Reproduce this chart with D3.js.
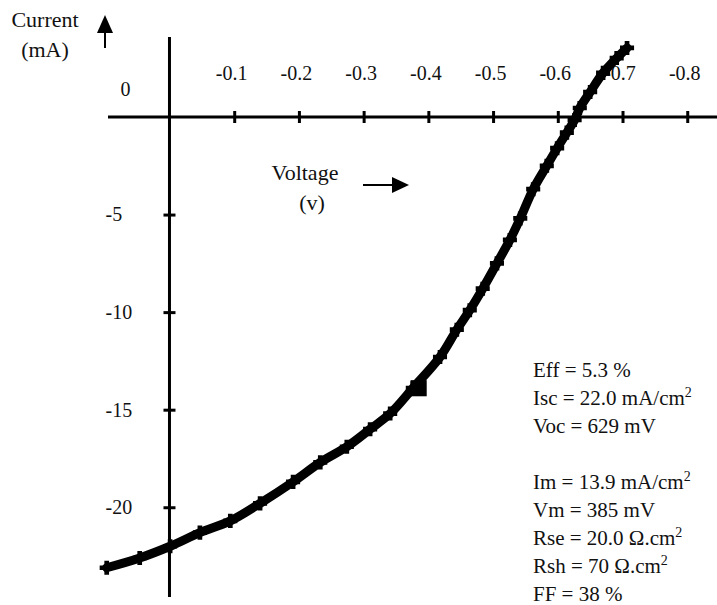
<!DOCTYPE html>
<html>
<head>
<meta charset="utf-8">
<script src="https://cdn.jsdelivr.net/npm/d3@7"></script>
<style>
  body { margin: 0; background: #fff; }
  svg text { font-family: "Liberation Serif", "Times New Roman", serif; fill: #111; }
</style>
</head>
<body>
<script>
var width = 717,
    height = 605;

// I-V curve (voltage in V, current in mA)
var voltage = [0.097, 0.046, -0.001, -0.047, -0.094, -0.140, -0.191, -0.233, -0.274, -0.310,
  -0.341, -0.376, -0.418, -0.444, -0.464, -0.484, -0.506, -0.526, -0.542, -0.562,
  -0.583, -0.599, -0.614, -0.626, -0.634, -0.650, -0.670, -0.691, -0.707];
var current = [-23.1, -22.6, -22.0, -21.3, -20.7, -19.8, -18.7, -17.7, -16.9, -16.0,
  -15.2, -13.9, -12.3, -10.9, -9.9, -8.8, -7.5, -6.3, -5.2, -3.7,
  -2.5, -1.6, -0.8, -0.15, 0.46, 1.28, 2.26, 3.02, 3.54];

var xTicks = [-0.1, -0.2, -0.3, -0.4, -0.5, -0.6, -0.7, -0.8];
var yTicks = [-5, -10, -15, -20];

// max power point
var vm = -0.385, im = -13.9;

var notes = ["Eff = 5.3 %", "Isc = 22.0 mA/cm|2", "Voc = 629 mV", "",
  "Im = 13.9 mA/cm|2", "Vm = 385 mV", "Rse = 20.0 \u03A9.cm|2", "Rsh = 70 \u03A9.cm|2", "FF = 38 %"];

var points = voltage.map(function(v, i){ return {v: v, i: current[i]}; });

var svg = d3.select("body").append("svg").attr("width", width).attr("height", height);

var x = d3.scaleLinear().domain([0.095, -0.846]).range([108, 717]);
var y = d3.scaleLinear().domain([4.1, -24.6]).range([37, 597]);

// axis lines
svg.append("line")
    .attr("x1", x(0.095)).attr("x2", x(-0.846))
    .attr("y1", y(0)).attr("y2", y(0))
    .attr("stroke", "#000").attr("stroke-width", 3);
svg.append("line")
    .attr("x1", x(0)).attr("x2", x(0))
    .attr("y1", y(4.1)).attr("y2", y(-24.6))
    .attr("stroke", "#000").attr("stroke-width", 3);

// x ticks, labels above the axis
var gx = svg.append("g")
    .attr("transform", "translate(0," + y(0) + ")")
    .call(d3.axisTop(x).tickValues(xTicks).tickSize(6).tickPadding(31)
      .tickFormat(function(d){ return d.toFixed(1); }));
gx.select(".domain").remove();
gx.selectAll(".tick line").attr("y1", 6).attr("stroke", "#000").attr("stroke-width", 3);
gx.selectAll(".tick text")
    .attr("dx", -3)
    .style("font-size", "20px")
    .style("font-family", "Liberation Serif, serif");

// y ticks, labels left-aligned
var gy = svg.append("g")
    .attr("transform", "translate(" + x(0) + ",0)")
    .call(d3.axisLeft(y).tickValues(yTicks).tickSize(6)
      .tickFormat(function(d){ return String(d); }));
gy.select(".domain").remove();
gy.selectAll(".tick line").attr("x1", 6).attr("stroke", "#000").attr("stroke-width", 3);
gy.selectAll(".tick text")
    .attr("x", -64)
    .attr("text-anchor", "start")
    .style("font-size", "20px")
    .style("font-family", "Liberation Serif, serif");

svg.append("text")
    .attr("x", x(0) - 44).attr("y", y(0) - 21)
    .attr("text-anchor", "middle")
    .style("font-size", "20px")
    .text("0");

// axis titles and arrows
svg.append("text").attr("x", 45).attr("y", 27).attr("text-anchor", "middle")
    .style("font-size", "22px").text("Current");
svg.append("text").attr("x", 45).attr("y", 57).attr("text-anchor", "middle")
    .style("font-size", "22px").text("(mA)");

svg.append("line").attr("x1", 105).attr("x2", 105).attr("y1", 32).attr("y2", 48)
    .attr("stroke", "#000").attr("stroke-width", 2);
svg.append("path").attr("d", "M105,15L113,33L97,33Z").attr("fill", "#000");

svg.append("text").attr("x", 305).attr("y", 180).attr("text-anchor", "middle")
    .style("font-size", "22px").text("Voltage");
svg.append("text").attr("x", 312).attr("y", 210).attr("text-anchor", "middle")
    .style("font-size", "22px").text("(v)");

svg.append("line").attr("x1", 363).attr("x2", 394).attr("y1", 185).attr("y2", 185)
    .attr("stroke", "#000").attr("stroke-width", 2);
svg.append("path").attr("d", "M409,185L392,177L392,193Z").attr("fill", "#000");

// the curve
var line = d3.line()
    .x(function(d){ return x(d.v); })
    .y(function(d){ return y(d.i); })
    .curve(d3.curveCatmullRom);

svg.append("path")
    .datum(points)
    .attr("d", line)
    .attr("fill", "none")
    .attr("stroke", "#000")
    .attr("stroke-width", 9)
    .attr("stroke-linejoin", "round")
    .attr("stroke-linecap", "round");

svg.append("g").selectAll("path")
    .data(points)
  .enter().append("path")
    .attr("transform", function(d){ return "translate(" + x(d.v) + "," + y(d.i) + ")"; })
    .attr("d", d3.symbol().type(d3.symbolCross).size(110))
    .attr("fill", "#000");

svg.append("path")
    .attr("transform", "translate(" + x(vm) + "," + y(im) + ")")
    .attr("d", d3.symbol().type(d3.symbolSquare).size(260))
    .attr("fill", "#000");

// parameter notes
var note = svg.append("g").selectAll("text")
    .data(notes)
  .enter().append("text")
    .attr("x", 533)
    .attr("y", function(d, i){ return 377 + i * 28; })
    .style("font-size", "21px");

note.each(function(d){
  var parts = d.split("|");
  var t = d3.select(this);
  t.append("tspan").text(parts[0]);
  if (parts[1]) {
    t.append("tspan").attr("dy", -8).style("font-size", "14px").text(parts[1]);
  }
});
</script>
</body>
</html>
